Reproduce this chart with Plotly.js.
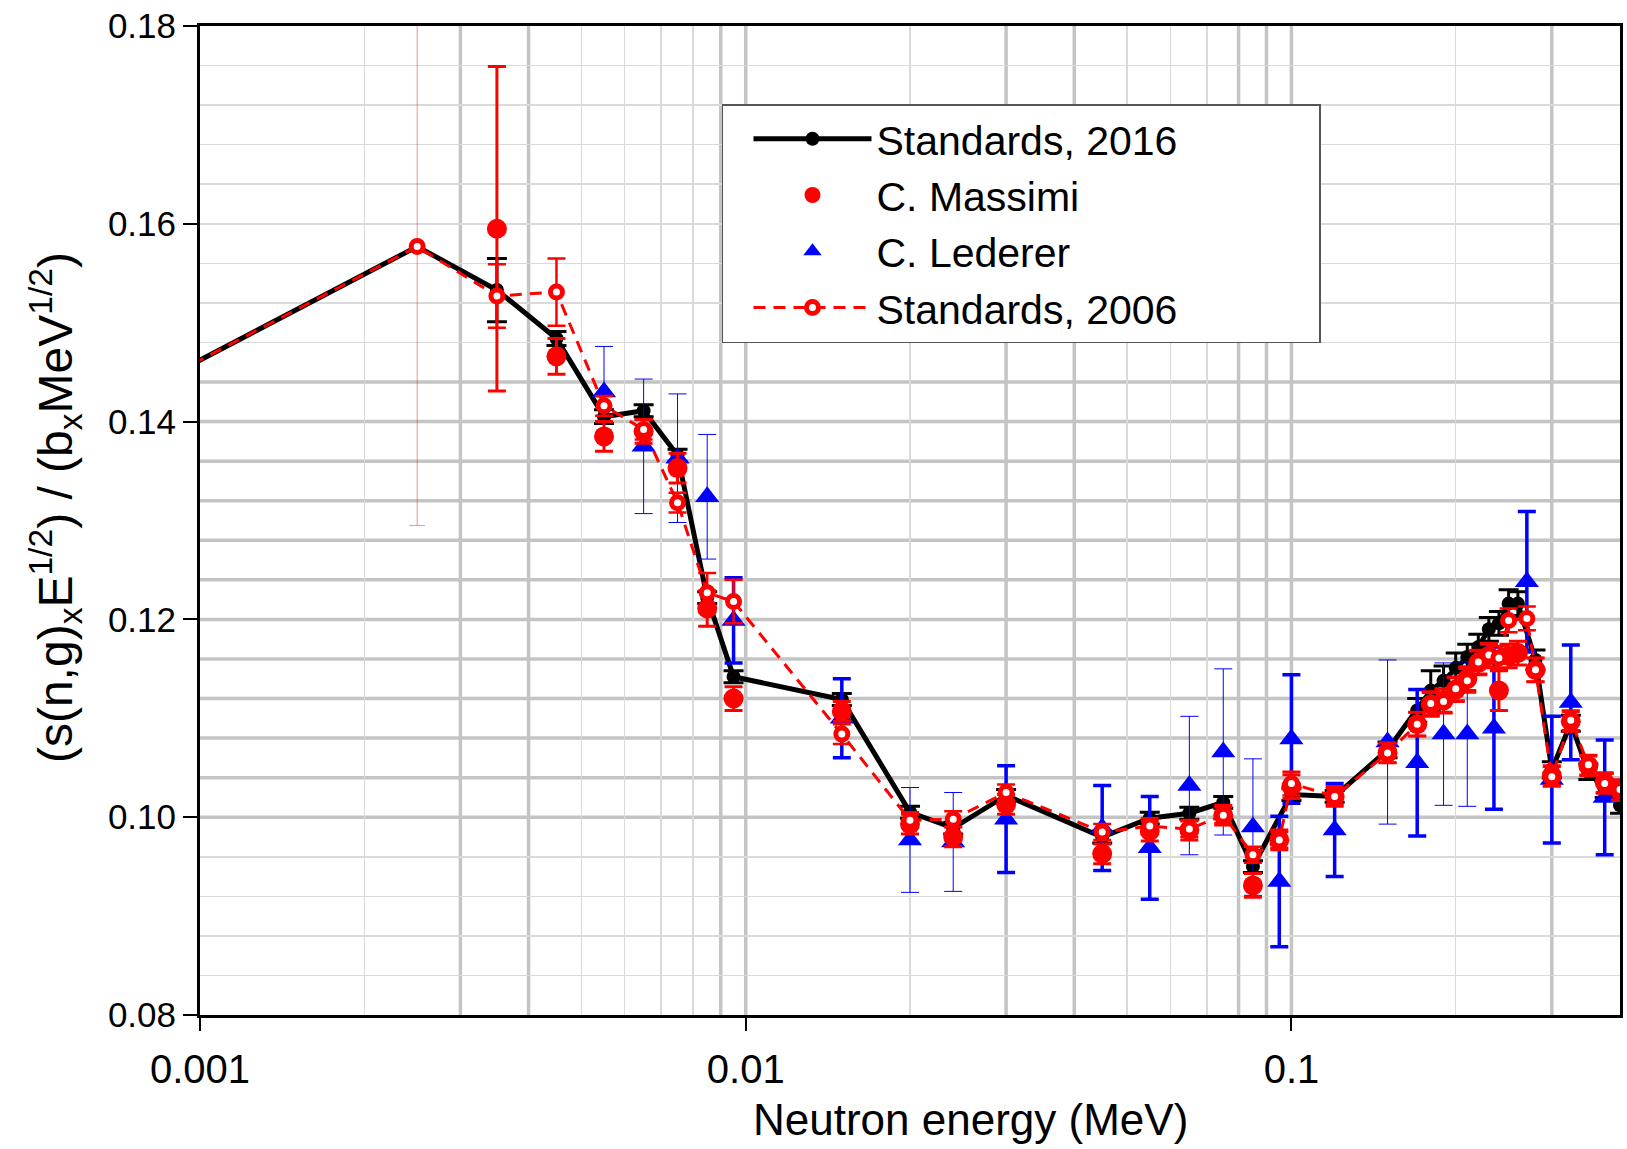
<!DOCTYPE html>
<html>
<head>
<meta charset="utf-8">
<script src="https://cdn.plot.ly/plotly-3.0.1.min.js"></script>
<style>html,body{margin:0;padding:0;background:#fff;}</style>
</head>
<body>
<div id="chart" style="width:1627px;height:1149px;"></div>
<script>
// ---------- axis ticks & grid values ----------
const xTickVals = [0.001, 0.01, 0.1];
const xTickText = ['0.001', '0.01', '0.1'];
const yTickVals = [0.08, 0.10, 0.12, 0.14, 0.16, 0.18];
const yTickText = ['0.08', '0.10', '0.12', '0.14', '0.16', '0.18'];
const gridXThick = [0.003, 0.004, 0.009, 0.01, 0.03, 0.04, 0.08, 0.09, 0.1, 0.3];
const gridXThin = [0.002, 0.005, 0.006, 0.007, 0.008, 0.02, 0.05, 0.06, 0.07, 0.2];
const gridYThick = [0.100, 0.104, 0.108, 0.112, 0.116, 0.120, 0.124, 0.128, 0.132, 0.136, 0.140, 0.144];
const gridYThin = [0.084, 0.088, 0.092, 0.096, 0.148, 0.152, 0.156, 0.160, 0.164, 0.168, 0.172, 0.176];

// ---------- series names ----------
const seriesNames = ['Standards, 2016', 'C. Massimi', 'C. Lederer', 'Standards, 2006'];

// ---------- Standards, 2016 ----------
const std2016Energy = [0.0009, 0.0025, 0.0035, 0.0045, 0.0055, 0.0065, 0.0075, 0.0085, 0.0095, 0.015,
  0.02, 0.024, 0.03, 0.045, 0.055, 0.065, 0.075, 0.085, 0.1, 0.12,
  0.15, 0.17, 0.18, 0.19, 0.2, 0.21, 0.22, 0.23, 0.24, 0.25,
  0.26, 0.28, 0.3, 0.325, 0.35, 0.375, 0.4];
const std2016Value = [0.1449, 0.1577, 0.1533, 0.1484, 0.1405, 0.1411, 0.1366, 0.1222, 0.1142, 0.1119,
  0.1005, 0.0989, 0.1022, 0.0980, 0.0999, 0.1004, 0.1015, 0.0950, 0.1023, 0.1021,
  0.1068, 0.1108, 0.1128, 0.1138, 0.1151, 0.1162, 0.1172, 0.1190, 0.1196, 0.1216,
  0.1216, 0.1159, 0.1048, 0.1095, 0.1046, 0.1028, 0.1012];
const std2016Err = [0, 0, 0.0032, 0.0007, 0.0007, 0.0006, 0.0006, 0.0006, 0.0006, 0.0006,
  0.0006, 0.0006, 0.0006, 0.0006, 0.0006, 0.0006, 0.0006, 0.0006, 0.0006, 0.0006,
  0.0008, 0.0012, 0.0020, 0.0015, 0.0015, 0.0013, 0.0013, 0.0012, 0.0012, 0.0014,
  0.0012, 0.0010, 0.0008, 0.0008, 0.0008, 0.0008, 0.0008];

// ---------- C. Massimi ----------
const massimiEnergy = [0.0035, 0.0045, 0.0055, 0.0065, 0.0075, 0.0085, 0.0095, 0.015, 0.02, 0.024,
  0.03, 0.045, 0.055, 0.065, 0.075, 0.085, 0.095, 0.1, 0.12, 0.15,
  0.17, 0.18, 0.19, 0.2, 0.21, 0.22, 0.23, 0.24, 0.25, 0.26,
  0.28, 0.3, 0.325, 0.35, 0.375, 0.4];
const massimiValue = [0.1595, 0.1466, 0.1385, 0.1390, 0.1353, 0.1211, 0.1120, 0.1107, 0.0993, 0.0980,
  0.1013, 0.0963, 0.0986, 0.0987, 0.1002, 0.0931, 0.0977, 0.1031, 0.1021, 0.1065,
  0.1094, 0.1114, 0.1118, 0.1129, 0.1140, 0.1156, 0.1163, 0.1128, 0.1163, 0.1166,
  0.1149, 0.1042, 0.1097, 0.1052, 0.1035, 0.1027];
const massimiErr = [0.0164, 0.0018, 0.0015, 0.0012, 0.0015, 0.0018, 0.0012, 0.0010, 0.0010, 0.0010,
  0.0010, 0.0010, 0.0010, 0.0010, 0.0010, 0.0012, 0.0010, 0.0012, 0.0010, 0.0010,
  0.0012, 0.0012, 0.0012, 0.0012, 0.0012, 0.0012, 0.0012, 0.0020, 0.0012, 0.0012,
  0.0012, 0.0010, 0.0010, 0.0010, 0.0010, 0.0010];

// ---------- C. Lederer ----------
const ledererEnergy = [0.0055, 0.0065, 0.0075, 0.0085, 0.0095, 0.015, 0.02, 0.024, 0.03, 0.045,
  0.055, 0.065, 0.075, 0.085, 0.095, 0.1, 0.12, 0.15, 0.17, 0.19,
  0.21, 0.235, 0.27, 0.3, 0.325, 0.375];
const ledererValue = [0.1430, 0.1375, 0.1363, 0.1324, 0.1199, 0.1100, 0.0977, 0.0975, 0.0998, 0.0989,
  0.0969, 0.1032, 0.1066, 0.0990, 0.0935, 0.1079, 0.0987, 0.1076, 0.1055, 0.1084,
  0.1084, 0.1090, 0.1238, 0.1038, 0.1116, 0.1020];
const ledererErr = [0.0046, 0.0068, 0.0065, 0.0063, 0.0043, 0.0040, 0.0053, 0.0050, 0.0054, 0.0043,
  0.0052, 0.0070, 0.0084, 0.0069, 0.0066, 0.0065, 0.0047, 0.0083, 0.0074, 0.0072,
  0.0073, 0.0082, 0.0071, 0.0064, 0.0058, 0.0058];
const ledererFineBar = [1, 1, 1, 1, 0, 0, 1, 1, 0, 0,
  0, 1, 1, 1, 0, 0, 0, 1, 0, 1,
  1, 0, 0, 0, 0, 0];

// ---------- Standards, 2006 ----------
const std2006Energy = [0.0009, 0.0025, 0.0035, 0.0045, 0.0055, 0.0065, 0.0075, 0.0085, 0.0095, 0.015,
  0.02, 0.024, 0.03, 0.045, 0.055, 0.065, 0.075, 0.085, 0.095, 0.1,
  0.12, 0.15, 0.17, 0.18, 0.19, 0.2, 0.21, 0.22, 0.23, 0.24,
  0.25, 0.27, 0.28, 0.3, 0.325, 0.35, 0.375, 0.4];
const std2006Value = [0.1449, 0.1577, 0.1527, 0.1531, 0.1416, 0.1392, 0.1318, 0.1227, 0.1218, 0.1084,
  0.0997, 0.0998, 0.1025, 0.0985, 0.0991, 0.0988, 0.1002, 0.0962, 0.0977, 0.1034,
  0.1021, 0.1065, 0.1094, 0.1115, 0.1117, 0.1130, 0.1138, 0.1157, 0.1164, 0.1161,
  0.1199, 0.1201, 0.1149, 0.1041, 0.1098, 0.1053, 0.1034, 0.1028];
const std2006Err = [0, 0.0282, 0.0032, 0.0034, 0.0010, 0.0010, 0.0010, 0.0020, 0.0022, 0.0010,
  0.0008, 0.0008, 0.0008, 0.0008, 0.0008, 0.0008, 0.0008, 0.0008, 0.0008, 0.0012,
  0.0008, 0.0010, 0.0012, 0.0012, 0.0012, 0.0012, 0.0012, 0.0012, 0.0012, 0.0012,
  0.0012, 0.0012, 0.0012, 0.0010, 0.0010, 0.0010, 0.0010, 0.0010];
const std2006FineBar = [0, 1, 0, 0, 0, 0, 0, 0, 0, 0,
  0, 0, 0, 0, 0, 0, 0, 0, 0, 0,
  0, 0, 0, 0, 0, 0, 0, 0, 0, 0,
  0, 0, 0, 0, 0, 0, 0, 0];

// ---------- helpers ----------
const noZero = arr => arr.map(v => (v > 0 ? v : NaN));
const onlyFlag = (arr, flags, want) => arr.map((v, i) => (flags[i] === want && v > 0 ? v : NaN));
// widen the legend box (reference box is wider than its text)
const legendPad = '\u00a0'.repeat(12);

const RED = '#ff0000', BLUE = '#0000ff', BLACK = '#000000';
const FONT = 'Liberation Sans, Arial, sans-serif';
const GRID_THICK = '#c4c4c4';

const traces = [
  {
    name: seriesNames[0] + legendPad, x: std2016Energy, y: std2016Value, type: 'scatter', mode: 'lines+markers',
    line: {color: BLACK, width: 5}, marker: {color: BLACK, size: 14, symbol: 'circle'},
    error_y: {type: 'data', array: noZero(std2016Err), visible: true, color: BLACK, thickness: 3, width: 10},
    legendrank: 1, cliponaxis: true
  },
  {
    name: seriesNames[2] + ' (fine bars)', x: ledererEnergy, y: ledererValue, type: 'scatter', mode: 'markers',
    marker: {color: BLUE, size: 2, opacity: 0}, showlegend: false, hoverinfo: 'skip',
    error_y: {type: 'data', array: onlyFlag(ledererErr, ledererFineBar, 1), visible: true, color: BLUE, thickness: 1, width: 9}
  },
  {
    name: seriesNames[2], x: ledererEnergy, y: ledererValue, type: 'scatter', mode: 'markers',
    marker: {color: BLUE, size: 21, symbol: 'triangle-up'},
    error_y: {type: 'data', array: onlyFlag(ledererErr, ledererFineBar, 0), visible: true, color: BLUE, thickness: 3.5, width: 9},
    legendrank: 3
  },
  {
    name: seriesNames[1], x: massimiEnergy, y: massimiValue, type: 'scatter', mode: 'markers',
    marker: {color: RED, size: 20, symbol: 'circle'},
    error_y: {type: 'data', array: massimiErr, visible: true, color: RED, thickness: 3, width: 9},
    legendrank: 2
  },
  {
    name: seriesNames[3] + ' (fine bars)', x: std2006Energy, y: std2006Value, type: 'scatter', mode: 'markers',
    marker: {color: RED, size: 2, opacity: 0}, showlegend: false, hoverinfo: 'skip',
    error_y: {type: 'data', array: onlyFlag(std2006Err, std2006FineBar, 1), visible: true, color: 'rgba(255,0,0,0.45)', thickness: 1, width: 8}
  },
  {
    name: seriesNames[3], x: std2006Energy, y: std2006Value, type: 'scatter', mode: 'lines+markers',
    line: {color: RED, width: 3, dash: '12px,8px'},
    marker: {color: '#ffffff', size: 12, symbol: 'circle', line: {color: RED, width: 5}},
    error_y: {type: 'data', array: onlyFlag(std2006Err, std2006FineBar, 0), visible: true, color: RED, thickness: 2.5, width: 9},
    legendrank: 4
  }
];

const xRange = [Math.log10(0.001), Math.log10(0.4)];
const yRange = [0.08, 0.18];

// thick grid lines as shapes positioned through the axes
const gridShapes = [
  ...gridXThick.map(v => ({type: 'line', xref: 'x', yref: 'paper', x0: v, x1: v, y0: 0, y1: 1,
    line: {color: GRID_THICK, width: 3.5}, layer: 'between'})),
  ...gridYThick.map(v => ({type: 'line', xref: 'paper', yref: 'y', x0: 0, x1: 1, y0: v, y1: v,
    line: {color: GRID_THICK, width: 3.5}, layer: 'between'}))
];

const layout = {
  width: 1627, height: 1149,
  margin: {l: 200, r: 7, t: 26, b: 134, pad: 0},
  paper_bgcolor: '#ffffff', plot_bgcolor: '#ffffff',
  font: {family: FONT, color: '#000'},
  showlegend: true,
  xaxis: {
    type: 'log', range: xRange, tickmode: 'array', tickvals: xTickVals, ticktext: xTickText,
    ticks: 'outside', ticklen: 13, tickwidth: 2, tickcolor: BLACK,
    showline: true, linewidth: 3, linecolor: BLACK, mirror: true,
    showgrid: false, zeroline: false, automargin: false,
    tickfont: {family: FONT, size: 40, color: '#000'}, ticklabelstandoff: 4,
    minor: {tickmode: 'array', tickvals: gridXThin, ticks: '', showgrid: true, gridcolor: '#dadada', gridwidth: 1.5}
  },
  yaxis: {
    range: yRange, tickmode: 'array', tickvals: yTickVals, ticktext: yTickText,
    ticks: 'outside', ticklen: 14, tickwidth: 2, tickcolor: BLACK,
    showline: true, linewidth: 3, linecolor: BLACK, mirror: true,
    showgrid: false, zeroline: false, automargin: false,
    tickfont: {family: FONT, size: 35, color: '#000'},
    minor: {tickmode: 'array', tickvals: gridYThin, ticks: '', showgrid: true, gridcolor: '#dadada', gridwidth: 1.5}
  },
  shapes: gridShapes,
  legend: {
    x: 0.3676, y: 0.9211, xanchor: 'left', yanchor: 'top',
    bgcolor: '#ffffff', bordercolor: '#555555', borderwidth: 1.5,
    font: {family: FONT, size: 41, color: '#000'},
    itemwidth: 118, indentation: 25,
    traceorder: 'normal', itemsizing: 'trace'
  },
  annotations: [
    {
      text: '(s(n,g)<sub>x</sub>E<sup>1/2</sup>) / (b<sub>x</sub>MeV<sup>1/2</sup>)',
      xref: 'paper', yref: 'paper', x: -0.1021, y: 0.5126, xanchor: 'center', yanchor: 'middle',
      textangle: -90, showarrow: false, font: {family: FONT, size: 48, color: '#000'}
    },
    {
      text: 'Neutron energy (MeV)',
      xref: 'paper', yref: 'paper', x: 0.5423, y: -0.106, xanchor: 'center', yanchor: 'middle',
      showarrow: false, font: {family: FONT, size: 44, color: '#000'}
    }
  ]
};

Plotly.newPlot('chart', traces, layout, {displayModeBar: false, staticPlot: true});
</script>
</body>
</html>
